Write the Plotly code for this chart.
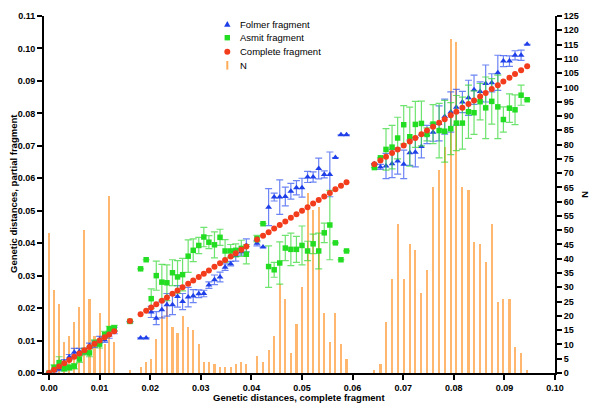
import plotly.graph_objects as go

# x positions: mean genetic distance of the complete fragment
dist_complete = [
    0.0000, 0.0010, 0.0020, 0.0030, 0.0040, 0.0050, 0.0060, 0.0070, 0.0080, 0.0090,
    0.0100, 0.0110, 0.0119, 0.0129, 0.0160,
    0.0181, 0.0192, 0.0202, 0.0212, 0.0223, 0.0233, 0.0244, 0.0254, 0.0264, 0.0275,
    0.0285, 0.0296, 0.0306, 0.0316, 0.0327, 0.0338, 0.0348, 0.0359, 0.0369, 0.0380, 0.0390,
    0.0411, 0.0423, 0.0434, 0.0445, 0.0456, 0.0467, 0.0478, 0.0489, 0.0500, 0.0511,
    0.0522, 0.0533, 0.0544, 0.0555, 0.0566, 0.0577, 0.0588,
    0.0643, 0.0655, 0.0666, 0.0678, 0.0689, 0.0701, 0.0713, 0.0724, 0.0736, 0.0747,
    0.0759, 0.0771, 0.0782, 0.0794, 0.0805, 0.0817, 0.0829, 0.0840, 0.0852, 0.0863,
    0.0875, 0.0887, 0.0898, 0.0910, 0.0921, 0.0933, 0.0945,
]

complete_fragment = [
    0.0000, 0.0010, 0.0020, 0.0030, 0.0040, 0.0050, 0.0060, 0.0070, 0.0080, 0.0090,
    0.0100, 0.0110, 0.0119, 0.0129, 0.0160,
    0.0181, 0.0192, 0.0202, 0.0212, 0.0223, 0.0233, 0.0244, 0.0254, 0.0264, 0.0275,
    0.0285, 0.0296, 0.0306, 0.0316, 0.0327, 0.0338, 0.0348, 0.0359, 0.0369, 0.0380, 0.0390,
    0.0411, 0.0423, 0.0434, 0.0445, 0.0456, 0.0467, 0.0478, 0.0489, 0.0500, 0.0511,
    0.0522, 0.0533, 0.0544, 0.0555, 0.0566, 0.0577, 0.0588,
    0.0643, 0.0655, 0.0666, 0.0678, 0.0689, 0.0701, 0.0713, 0.0724, 0.0736, 0.0747,
    0.0759, 0.0771, 0.0782, 0.0794, 0.0805, 0.0817, 0.0829, 0.0840, 0.0852, 0.0863,
    0.0875, 0.0887, 0.0898, 0.0910, 0.0921, 0.0933, 0.0945,
]

folmer_fragment = [
    0.0000, 0.0007, 0.0012, 0.0034, 0.0049, 0.0064, 0.0066, 0.0067, 0.0084, 0.0089,
    0.0103, 0.0102, 0.0117, 0.0131, 0.0158,
    0.0108, 0.0108, 0.0188, 0.0169, 0.0195, 0.0210, 0.0210, 0.0236, 0.0220, 0.0234,
    0.0237, 0.0244, 0.0245, 0.0271, 0.0287, 0.0296, 0.0326, 0.0337, 0.0362, 0.0373, 0.0393,
    0.0400, 0.0388, 0.0511, 0.0542, 0.0542, 0.0544, 0.0560, 0.0571, 0.0571, 0.0604,
    0.0604, 0.0630, 0.0612, 0.0612, 0.0664, 0.0734, 0.0734,
    0.0645, 0.0635, 0.0638, 0.0645, 0.0653, 0.0643, 0.0679, 0.0680, 0.0698, 0.0735,
    0.0742, 0.0769, 0.0790, 0.0804, 0.0819, 0.0835, 0.0848, 0.0873, 0.0867, 0.0892,
    0.0894, 0.0925, 0.0961, 0.0961, 0.0979, 0.0979, 0.1013,
]

folmer_sd = [
    0.0000, 0.0003, 0.0005, 0.0007, 0.0008, 0.0012, 0.0010, 0.0009, 0.0008, 0.0010,
    0.0010, 0.0008, 0.0010, 0.0010, 0.0000,
    0.0000, 0.0000, 0.0017, 0.0020, 0.0025, 0.0035, 0.0030, 0.0033, 0.0025, 0.0030,
    0.0020, 0.0012, 0.0010, 0.0010, 0.0015, 0.0015, 0.0010, 0.0007, 0.0017, 0.0010, 0.0020,
    0.0008, 0.0000, 0.0057, 0.0012, 0.0053, 0.0029, 0.0024, 0.0022, 0.0029, 0.0017,
    0.0016, 0.0032, 0.0011, 0.0069, 0.0000, 0.0000, 0.0000,
    0.0000, 0.0008, 0.0039, 0.0043, 0.0040, 0.0044, 0.0039, 0.0045, 0.0035, 0.0028,
    0.0028, 0.0054, 0.0054, 0.0062, 0.0055, 0.0033, 0.0054, 0.0045, 0.0030, 0.0057,
    0.0028, 0.0054, 0.0017, 0.0016, 0.0014, 0.0016, 0.0000,
]

asmit_fragment = [
    0.0000, 0.0017, 0.0032, 0.0014, 0.0017, 0.0021, 0.0043, 0.0066, 0.0062, 0.0092,
    0.0089, 0.0118, 0.0136, 0.0139, 0.0159,
    0.0321, 0.0349, 0.0229, 0.0300, 0.0280, 0.0278, 0.0309, 0.0296, 0.0303, 0.0360,
    0.0378, 0.0393, 0.0419, 0.0403, 0.0395, 0.0418, 0.0376, 0.0376, 0.0378, 0.0384, 0.0366,
    0.0414, 0.0460, 0.0328, 0.0318, 0.0339, 0.0385, 0.0381, 0.0381, 0.0393, 0.0376,
    0.0398, 0.0376, 0.0432, 0.0456, 0.0401, 0.0349, 0.0376,
    0.0633, 0.0663, 0.0689, 0.0696, 0.0724, 0.0765, 0.0728, 0.0766, 0.0769, 0.0735,
    0.0767, 0.0747, 0.0745, 0.0753, 0.0770, 0.0770, 0.0805, 0.0802, 0.0836, 0.0817,
    0.0837, 0.0820, 0.0781, 0.0816, 0.0811, 0.0856, 0.0842,
]

asmit_sd = [
    0.0000, 0.0008, 0.0018, 0.0008, 0.0008, 0.0008, 0.0010, 0.0010, 0.0012, 0.0010,
    0.0012, 0.0010, 0.0008, 0.0008, 0.0000,
    0.0000, 0.0000, 0.0030, 0.0045, 0.0055, 0.0055, 0.0040, 0.0050, 0.0050, 0.0050,
    0.0035, 0.0025, 0.0030, 0.0020, 0.0040, 0.0025, 0.0035, 0.0020, 0.0020, 0.0025, 0.0030,
    0.0010, 0.0000, 0.0064, 0.0023, 0.0065, 0.0039, 0.0050, 0.0040, 0.0060, 0.0030,
    0.0030, 0.0055, 0.0030, 0.0107, 0.0000, 0.0000, 0.0000,
    0.0000, 0.0000, 0.0064, 0.0067, 0.0064, 0.0059, 0.0091, 0.0071, 0.0069, 0.0020,
    0.0060, 0.0084, 0.0095, 0.0080, 0.0085, 0.0080, 0.0082, 0.0067, 0.0056, 0.0095,
    0.0070, 0.0098, 0.0039, 0.0044, 0.0046, 0.0031, 0.0000,
]

n_pairs = [
    49, 29, 24, 11, 13, 18, 23, 50, 26, 13, 21, 10, 62, 11, 1,
    2, 4, 5, 12, 20, 25, 16, 14, 20, 16, 15, 10, 4, 4, 3, 2, 2, 2, 3, 4, 3,
    6, 4, 8, 13, 31, 26, 7, 17, 30, 63, 57, 58, 21, 11, 21, 10, 5,
    1, 3, 18, 33, 52, 33, 45, 43, 28, 36, 65, 71, 79, 117, 116, 65, 64, 46, 45, 39,
    52, 25, 26, 26, 9, 7, 1,
]

x_ticks = [0.00, 0.01, 0.02, 0.03, 0.04, 0.05, 0.06, 0.07, 0.08, 0.09, 0.10]
legend_labels = ["Folmer fragment", "Asmit fragment", "Complete fragment", "N"]

FONT = "Liberation Sans, Arial, sans-serif"
BLUE = "#1f3fe8"
GREEN = "#22dd22"
RED = "#f23c1c"
ORANGE = "rgba(255,163,70,0.78)"

W, H = 600, 410
ML, MR, MT, MB = 44, 45, 16, 37
PW, PH = W - ML - MR, H - MT - MB


def px(xp):
    return (xp - ML) / PW


def py(yp):
    return (H - MB - yp) / PH


fig = go.Figure()

# N histogram (right axis, drawn underneath the markers)
fig.add_trace(go.Bar(
    x=dist_complete, y=n_pairs, yaxis="y", xaxis="x",
    width=0.00042, marker=dict(color=ORANGE, line=dict(width=0)),
    name="N", showlegend=False,
))

fig.add_trace(go.Scatter(
    x=dist_complete, y=folmer_fragment, yaxis="y2", mode="markers",
    name="Folmer fragment", showlegend=False,
    marker=dict(symbol="triangle-up", size=6, color=BLUE, line=dict(width=0)),
    error_y=dict(type="data", array=folmer_sd, color="rgba(45,80,240,0.7)",
                 thickness=1.2, width=3.5),
))
fig.add_trace(go.Scatter(
    x=dist_complete, y=asmit_fragment, yaxis="y2", mode="markers",
    name="Asmit fragment", showlegend=False,
    marker=dict(symbol="square", size=5.5, color=GREEN, line=dict(width=0)),
    error_y=dict(type="data", array=asmit_sd, color="rgba(50,215,50,0.7)",
                 thickness=1.2, width=3.5),
))
fig.add_trace(go.Scatter(
    x=dist_complete, y=complete_fragment, yaxis="y2", mode="markers",
    name="Complete fragment", showlegend=False,
    marker=dict(symbol="circle", size=6, color=RED, line=dict(width=0)),
))

tickfont = dict(family=FONT, size=9, color="black", weight="bold")
axis_common = dict(
    showline=True, linecolor="black", linewidth=2,
    ticks="outside", ticklen=5, tickwidth=2, tickcolor="black",
    showgrid=False, zeroline=False, tickfont=tickfont, automargin=False,
)

# manual legend (symbols as shapes, labels as text)
lx = 227.3
legend_y = [24.0, 37.7, 51.7, 65.3]
shapes = [
    dict(type="path", xref="paper", yref="paper",
         path=f"M{px(lx-3.2)},{py(legend_y[0]+2.7)} L{px(lx+3.2)},{py(legend_y[0]+2.7)} "
              f"L{px(lx)},{py(legend_y[0]-2.9)} Z",
         fillcolor=BLUE, line=dict(width=0)),
    dict(type="rect", xref="paper", yref="paper",
         x0=px(lx-2.7), x1=px(lx+2.7), y0=py(legend_y[1]+2.7), y1=py(legend_y[1]-2.7),
         fillcolor=GREEN, line=dict(width=0)),
    dict(type="circle", xref="paper", yref="paper",
         x0=px(lx-3), x1=px(lx+3), y0=py(legend_y[2]+3), y1=py(legend_y[2]-3),
         fillcolor=RED, line=dict(width=0)),
    dict(type="rect", xref="paper", yref="paper",
         x0=px(lx-1), x1=px(lx+1), y0=py(legend_y[3]+4.3), y1=py(legend_y[3]-4.3),
         fillcolor="rgba(255,163,70,0.9)", line=dict(width=0)),
]

annotations = [
    dict(text=lab, xref="paper", yref="paper", x=px(238), y=py(ly),
         xanchor="left", yanchor="middle", showarrow=False,
         font=dict(family=FONT, size=9.5, color="black"))
    for lab, ly in zip(legend_labels, legend_y)
]
annotations += [
    dict(text="Genetic distances, complete fragment", xref="paper", yref="paper",
         x=px(299), y=py(397), xanchor="center", yanchor="middle", showarrow=False,
         font=dict(family=FONT, size=9.5, color="black", weight="bold")),
    dict(text="Genetic distances, partial fragment", xref="paper", yref="paper",
         x=px(13), y=py(194), xanchor="center", yanchor="middle", textangle=-90,
         showarrow=False,
         font=dict(family=FONT, size=9.5, color="black", weight="bold")),
    dict(text="N", xref="paper", yref="paper",
         x=px(586), y=py(194), xanchor="center", yanchor="middle", textangle=90,
         showarrow=False,
         font=dict(family=FONT, size=9.5, color="black", weight="bold")),
]

fig.update_layout(
    width=W, height=H,
    margin=dict(l=ML, r=MR, t=MT, b=MB, autoexpand=False),
    paper_bgcolor="white", plot_bgcolor="white",
    font=dict(family=FONT, color="black"),
    bargap=0, showlegend=False,
    xaxis=dict(range=[-0.00099, 0.1], tickvals=x_ticks, tickformat=".2f", **axis_common),
    yaxis=dict(range=[0, 125], dtick=5, side="right", **axis_common),
    yaxis2=dict(range=[0, 0.11], dtick=0.01, tickformat=".2f", side="left",
                overlaying="y", **axis_common),
    shapes=shapes,
    annotations=annotations,
)

fig.write_html(
    "out.html",
    config={"displayModeBar": False, "staticPlot": True},
    post_script="document.body.style.margin='0px';document.body.style.overflow='hidden';",
)
